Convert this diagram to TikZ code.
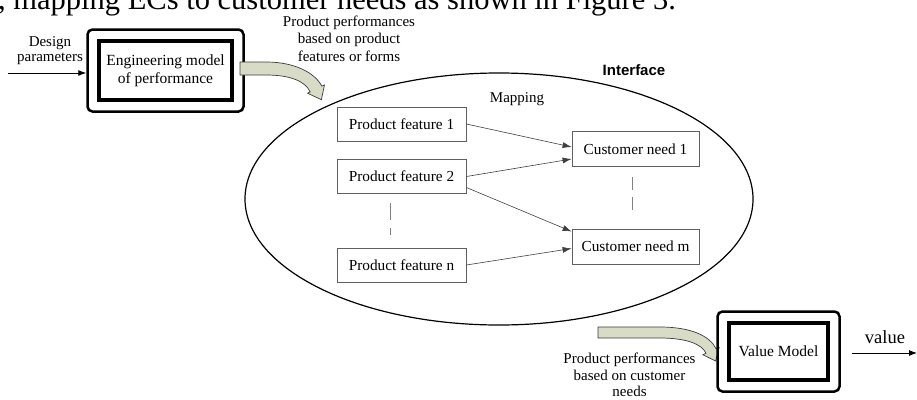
\documentclass[tikz,border=0pt]{standalone}
\usepackage{fontspec}
\setmainfont{Liberation Serif}
\newfontfamily\arialfont{Liberation Sans}
\usetikzlibrary{arrows.meta,fit,shapes.geometric}
\definecolor{bandfill}{RGB}{216,220,198}
\definecolor{bandedge}{RGB}{60,60,60}
\definecolor{boxedge}{RGB}{95,95,95}
\begin{document}
\begin{tikzpicture}[x=1pt,y=-1pt,
  txt/.style={align=center,inner sep=0pt,font=\fontsize{15}{17}\selectfont},
  featbox/.style={draw=boxedge,line width=0.8pt,minimum width=129pt,minimum height=34pt,inner sep=0pt,font=\fontsize{15.3}{17}\selectfont},
  needbox/.style={featbox,minimum width=127pt,minimum height=35pt},
  innerbox/.style={draw,line width=4pt,align=center,inner sep=0pt,font=\fontsize{15.5}{18}\selectfont},
  outerbox/.style={draw,line width=2.5pt,rounded corners=5pt},
  band/.style={fill=bandfill,draw=bandedge,line width=0.7pt,line join=round},
  mapline/.style={-{Latex[length=9pt,width=6pt]},line width=0.6pt,draw=black!75},
  flowline/.style={-{Latex[length=8pt,width=6pt]},line width=0.9pt},
  dashv/.style={draw=black!50,line width=0.8pt}]
\useasboundingbox (0,0) rectangle (917,399);
\clip (0,0) rectangle (917,399);

% caption line cut at the top
\node[anchor=base west,inner sep=0pt,font=\fontsize{30.5}{33}\selectfont] (cap) at (-2,9.5)
  {, mapping ECs to customer needs as shown in Figure 3.};

% interface ellipse
\node[draw,ellipse,minimum width=508pt,minimum height=252pt,line width=1.2pt,inner sep=0pt] (iface) at (499,199) {};
\node[font=\arialfont\bfseries\fontsize{15}{17}\selectfont,inner sep=0pt] (ifl) at (634,70) {Interface};
\node[txt] (map) at (517,99) {Mapping};

% engineering model
\node[innerbox,minimum width=133pt,minimum height=59pt] (em) at (165.5,70.5) {Engineering model\\of performance};
\node[outerbox,fit=(em),inner sep=9.5pt] (emo) {};

% design parameters
\node[txt,font=\fontsize{15}{15.5}\selectfont] (dp) at (50,50.5) {Design\\parameters};
\coordinate (dpin) at (8,73);
\draw[flowline] (dpin) -- (dpin -| emo.west);

% top block arrow
\draw[band] (240,62) -- (266,62) .. controls (295,62) and (315,73) .. (321.8,86.1)
  -- (324.5,84.8) -- (321.4,99.7) -- (307.5,93.2) -- (310.2,91.9)
  .. controls (305,81) and (290,75) .. (266,75) -- (240,75) -- cycle;
\node[txt,font=\fontsize{15}{17.5}\selectfont] (ppf) at (349,38.5) {Product performances\\based on product\\features or forms};

% product features
\node[featbox] (pf1) at (401.5,124) {Product feature 1};
\node[featbox] (pf2) at (401.5,176.5) {Product feature 2};
\node[featbox] (pfn) at (401.5,265) {Product feature n};

% customer needs
\node[needbox] (cn1) at (635.5,149) {Customer need 1};
\node[needbox] (cnm) at (635.5,246.5) {Customer need m};

% mapping arrows
\draw[mapline] (pf1.east) -- ([yshift=2pt]cn1.west);
\draw[mapline] (pf2.east) -- ([yshift=-10pt]cn1.west);
\draw[mapline] ([yshift=-11pt]pf2.east) -- ([yshift=15pt]cnm.west);
\draw[mapline] (pfn.east) -- ([yshift=-2pt]cnm.west);

% ellipsis dashes
\coordinate (d1a) at (390,203);
\coordinate (d1b) at (390,235);
\draw[dashv,dash pattern=on 17pt off 8pt] (d1a) -- (d1b);
\coordinate (d2a) at (632,177);
\coordinate (d2b) at (632,217);
\draw[dashv,dash pattern=on 13pt off 7pt] (d2a) -- (d2b);

% bottom block arrow
\draw[band] (598,327) -- (660,327) .. controls (691,327) and (710,336) .. (716,348.7)
  -- (719.2,347.3) -- (715.6,361) -- (702.8,354.7) -- (706,353.3)
  .. controls (702,344) and (686,338) .. (660,338) -- (598,338) -- cycle;
\node[txt,font=\fontsize{15}{16.5}\selectfont] (ppc) at (629.5,375) {Product performances\\based on customer\\needs};

% value model
\node[innerbox,minimum width=99pt,minimum height=57pt] (vm) at (778.5,351.5) {Value Model};
\node[outerbox,fit=(vm),inner sep=9.5pt] (vmo) {};
\coordinate (vend) at (917,353);
\draw[flowline] ([xshift=11pt]vmo.east |- vend) -- (vend);
\node[inner sep=0pt,font=\fontsize{18.5}{20}\selectfont] (vl) at (885,337) {value};
\end{tikzpicture}
\end{document}
